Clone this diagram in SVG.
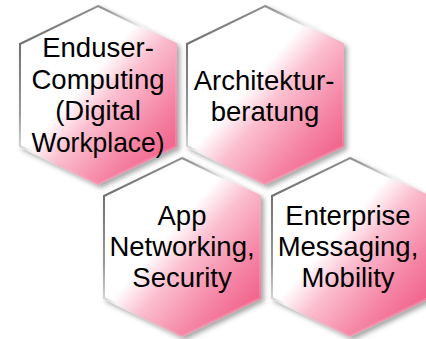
<svg xmlns="http://www.w3.org/2000/svg" xmlns:xlink="http://www.w3.org/1999/xlink" width="426" height="339" viewBox="0 0 426 339">
<defs>
<linearGradient id="fillG" x1="0" y1="0" x2="1" y2="1">
<stop offset="0" stop-color="#ffffff"/>
<stop offset="0.42" stop-color="#ffffff"/>
<stop offset="0.55" stop-color="#fbbfd0"/>
<stop offset="0.75" stop-color="#f585a5"/>
<stop offset="1" stop-color="#ee4a78"/>
</linearGradient>
<linearGradient id="strokeG" x1="0" y1="0" x2="1" y2="1">
<stop offset="0" stop-color="#5a5a5a"/>
<stop offset="0.3" stop-color="#9a9a9a"/>
<stop offset="0.45" stop-color="#f4f4f4"/>
<stop offset="0.58" stop-color="#f7b3c6"/>
<stop offset="1" stop-color="#f06a92"/>
</linearGradient>
<filter id="sh" x="-10%" y="-10%" width="130%" height="130%">
<feDropShadow dx="3" dy="3" stdDeviation="2.5" flood-color="#000" flood-opacity="0.35"/>
</filter>
<path id="hex" d="M0,-89 L78,-51 L78,51 L0,89 L-78,51 L-78,-51 Z"/>
</defs>
<style>
.hx{fill:url(#fillG);stroke:url(#strokeG);stroke-width:2;filter:url(#sh);}
text{font-family:"Liberation Sans",Arial,sans-serif;font-size:27.5px;fill:#000;text-anchor:middle;}
</style>
<g id="node-enduser">
<use xlink:href="#hex" class="hx" transform="translate(98,95)"/>
<text x="98" y="57">Enduser-</text>
<text x="98" y="88.5">Computing</text>
<text x="98" y="120">(Digital</text>
<text x="98" y="151.5" textLength="133" lengthAdjust="spacingAndGlyphs">Workplace)</text>
</g>
<g id="node-architektur">
<use xlink:href="#hex" class="hx" transform="translate(265,95)"/>
<text x="264" y="90">Architektur-</text>
<text x="265" y="121">beratung</text>
</g>
<g id="node-app">
<use xlink:href="#hex" class="hx" transform="translate(182,247)"/>
<text x="182" y="225">App</text>
<text x="182" y="256">Networking,</text>
<text x="182" y="287">Security</text>
</g>
<g id="node-enterprise">
<use xlink:href="#hex" class="hx" transform="translate(350,247)"/>
<text x="348" y="225">Enterprise</text>
<text x="348" y="256">Messaging,</text>
<text x="348" y="287">Mobility</text>
</g>
<g id="connectors"></g>
</svg>
